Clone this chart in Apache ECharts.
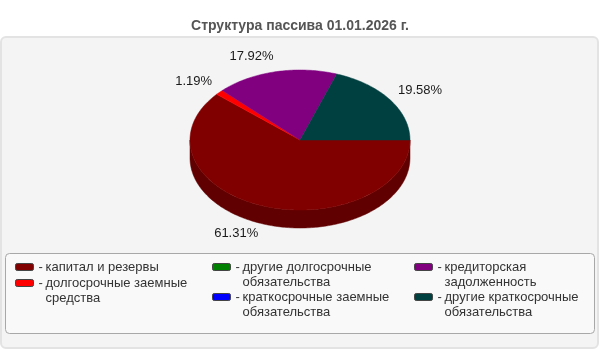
<!DOCTYPE html>
<html><head><meta charset="utf-8">
<script src="https://cdn.jsdelivr.net/npm/echarts@6/dist/echarts.min.js"></script>
<style>html,body{margin:0;padding:0;background:#fff}#c{width:600px;height:350px}</style>
</head><body><div id="c"></div>
<script>
const titleText = 'Структура пассива 01.01.2026 г.';
const categories = ['капитал и резервы', 'долгосрочные заемные средства', 'другие долгосрочные обязательства', 'краткосрочные заемные обязательства', 'кредиторская задолженность', 'другие краткосрочные обязательства'];
const values = [61.31, 1.19, 0, 0, 17.92, 19.58];
const colors = ['#800000', '#ff0000', '#008000', '#0000ff', '#800080', '#004040'];
const sideColors = ['#600000', '#c00000', '#006000', '#0000c0', '#600060', '#003030'];
const legendLines = [['капитал и резервы'], ['долгосрочные заемные', 'средства'], ['другие долгосрочные', 'обязательства'], ['краткосрочные заемные', 'обязательства'], ['кредиторская', 'задолженность'], ['другие краткосрочные', 'обязательства']];
const legendColX = [15, 212, 414];
const legendCol = [0, 0, 1, 1, 2, 2];
const legendMarkerY = [267, 283, 267, 297, 267, 297];

const FONT = '"Liberation Sans", Arial, sans-serif';
const PIE = {cx: 300, cy: 140, rx: 110, ry: 70, depth: 18, lrx: 120, lry: 87};
const total = values.reduce((a, b) => a + b, 0);
const starts = [];
let acc = 0;
values.forEach(v => { starts.push(acc); acc += v; });

function ellPt(t, dy) { return [PIE.cx + PIE.rx * Math.cos(t), PIE.cy + PIE.ry * Math.sin(t) + (dy || 0)]; }
function arcPts(t1, t2, dy) {
  const n = Math.max(2, Math.ceil((t2 - t1) / (Math.PI / 180)));
  const pts = [];
  for (let k = 0; k <= n; k++) pts.push(ellPt(t1 + (t2 - t1) * k / n, dy));
  return pts;
}
function renderSlice(i) {
  return function (params, api) {
    const v = api.value(0);
    if (!(v > 0)) return null;
    const t1 = starts[i] / total * 2 * Math.PI;
    const t2 = (starts[i] + v) / total * 2 * Math.PI;
    const children = [];
    const s1 = Math.max(t1, 0), s2 = Math.min(t2, Math.PI);
    if (s2 > s1) {
      const top = arcPts(s1, s2, 0), bot = arcPts(s1, s2, PIE.depth).reverse();
      children.push({type: 'polygon', z2: 1, shape: {points: top.concat(bot)}, style: {fill: sideColors[i], stroke: sideColors[i], lineWidth: 0.5}});
    }
    const pts = [[PIE.cx, PIE.cy]].concat(arcPts(t1, t2, 0));
    children.push({type: 'polygon', z2: 10, shape: {points: pts}, style: {fill: colors[i], stroke: colors[i], lineWidth: 0.5}});
    const m = (t1 + t2) / 2, c = Math.cos(m), s = Math.sin(m);
    children.push({type: 'text', z2: 20, x: PIE.cx + PIE.lrx * c, y: PIE.cy + PIE.lry * s + (s > 0 ? 12 : 1),
      style: {text: (v / total * 100).toFixed(2) + '%', fill: '#1a1a1a', font: '13px ' + FONT, align: c < 0 ? 'right' : 'left', verticalAlign: 'middle'}});
    return {type: 'group', children};
  };
}

const chart = echarts.init(document.getElementById('c'), null, {renderer: 'canvas'});
chart.setOption({
  animation: false,
  backgroundColor: '#ffffff',
  title: {text: titleText, left: 'center', top: 14, textStyle: {fontFamily: FONT, fontSize: 14, fontWeight: 'bold', color: '#555555'}},
  graphic: [
    {type: 'rect', z: 0, shape: {x: 1, y: 37, width: 597, height: 311, r: 5}, style: {fill: '#f4f4f4', stroke: '#e3e3e3', lineWidth: 2}},
    {type: 'rect', z: 0, shape: {x: 5.5, y: 253.5, width: 589, height: 80, r: 4}, style: {fill: '#f9f9f9', stroke: '#a8a8a8', lineWidth: 1}}
  ],
  legend: categories.map((name, i) => {
    const lines = legendLines[i];
    return {
      data: [name], left: legendColX[legendCol[i]], top: legendMarkerY[i] - 7.5 - 15 * (lines.length - 1), padding: 0,
      itemWidth: 18, itemHeight: 7, icon: 'roundRect', selectedMode: false,
      itemStyle: {borderColor: '#444444', borderWidth: 1},
      formatter: () => lines.map((l, k) => '{d|' + (k === 0 ? '-' : ' ') + '}{t|' + l + '}').join('\n'),
      textStyle: {fontFamily: FONT, fontSize: 13, color: '#333333', lineHeight: 15, padding: [15 * (lines.length - 1), 0, 0, 0],
        rich: {d: {width: 7, fontFamily: FONT, fontSize: 13, color: '#333333', lineHeight: 15}, t: {fontFamily: FONT, fontSize: 13, color: '#333333', lineHeight: 15}}}
    };
  }),
  series: categories.map((name, i) => ({
    type: 'custom', name, coordinateSystem: 'none', silent: true,
    data: [values[i]], itemStyle: {color: colors[i]}, renderItem: renderSlice(i)
  }))
});
</script></body></html>
